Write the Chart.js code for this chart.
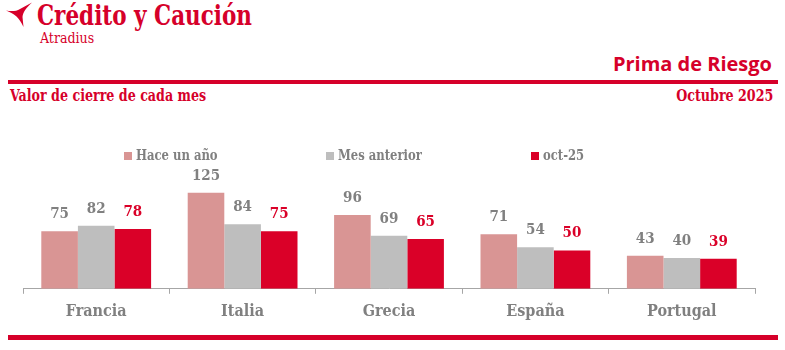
<!DOCTYPE html>
<html>
<head>
<meta charset="utf-8">
<script src="https://cdn.jsdelivr.net/npm/chart.js@4/dist/chart.umd.min.js"></script>
<style>
  html,body{margin:0;padding:0;background:#fff;}
  body{width:785px;height:350px;position:relative;overflow:hidden;}
  .abs{position:absolute;white-space:nowrap;}
  .slab{font-family:"DejaVu Serif Condensed","DejaVu Serif",serif;}
  #wrap{position:absolute;left:0;top:0;width:785px;height:350px;}
  .li{position:absolute;top:146px;display:flex;align-items:center;font-family:"DejaVu Serif Condensed","DejaVu Serif",serif;font-weight:bold;font-size:15px;color:#808080;white-space:nowrap;}
  .sw{width:8px;height:8px;margin-right:4px;margin-top:2px;flex:none;}
  .lt{display:inline-block;transform:scaleX(0.86);transform-origin:0 50%;}
</style>
</head>
<body>
<svg class="abs" style="left:0;top:0" width="36" height="30" viewBox="0 0 36 30">
  <path d="M6 10.5 C11 11.5 16 11.5 20 9 L32 2.5 C26 8 23 12 22.5 17 L23.5 27 C21 22 19 19 16.5 16.5 C13 13.5 10 12 6 10.5 Z" fill="#D6002A"/>
</svg>
<div class="abs slab" id="brand" style="left:37px;top:0px;font-size:27px;font-weight:bold;color:#D6002A;transform:scaleX(0.885);transform-origin:0 0;">Crédito y Caución</div>
<div class="abs slab" id="atr" style="left:40px;top:30px;font-size:14px;color:#D6002A;">Atradius</div>
<div class="abs" id="prima" style="right:13px;top:50px;font-family:'Open Sans',sans-serif;font-size:20px;font-weight:bold;color:#D6002A;">Prima de Riesgo</div>
<div class="abs" style="left:8px;top:80px;width:770px;height:4px;background:#D6002A;"></div>
<div class="abs slab" id="valor" style="left:10px;top:86px;font-size:16px;font-weight:bold;color:#D6002A;transform:scaleX(0.88);transform-origin:0 0;">Valor de cierre de cada mes</div>
<div class="abs slab" id="oct" style="right:12px;top:86px;font-size:16px;font-weight:bold;color:#D6002A;transform:scaleX(0.88);transform-origin:100% 0;">Octubre 2025</div>
<div class="abs" style="left:8px;top:335px;width:770px;height:5px;background:#D6002A;"></div>
<div id="wrap"><canvas id="c" width="785" height="350"></canvas></div>
<div id="legend"></div>
<script>
const categories = ["Francia", "Italia", "Grecia", "España", "Portugal"];
const seriesNames = ["Hace un año", "Mes anterior", "oct-25"];
const haceUnAno = [75, 125, 96, 71, 43];
const mesAnterior = [82, 84, 69, 54, 40];
const oct25 = [78, 75, 65, 50, 39];

const barColors = ["#D99594", "#BEBEBE", "#DA0028"];
const labelColors = ["#808080", "#808080", "#DA0028"];
const seriesValues = [haceUnAno, mesAnterior, oct25];
const canvasFont = '"DejaVu Serif Condensed", "DejaVu Serif", serif';

// HTML legend
const lg = document.getElementById('legend');
const legendX = [124, 326, 531];
seriesNames.forEach((n, i) => {
  const d = document.createElement('div');
  d.className = 'li';
  d.style.left = legendX[i] + 'px';
  d.innerHTML = '<span class="sw" style="background:' + barColors[i] + '"></span><span class="lt">' + n + '</span>';
  lg.appendChild(d);
});

const valueLabels = {
  id: 'valueLabels',
  afterDatasetsDraw(chart) {
    const ctx = chart.ctx;
    ctx.save();
    ctx.font = 'bold 15px ' + canvasFont;
    ctx.textAlign = 'center';
    ctx.textBaseline = 'alphabetic';
    chart.data.datasets.forEach((ds, i) => {
      const meta = chart.getDatasetMeta(i);
      ctx.fillStyle = labelColors[i];
      meta.data.forEach((el, j) => {
        ctx.fillText(String(ds.data[j]), el.x, el.y - 13);
      });
    });
    ctx.restore();
  }
};

new Chart(document.getElementById('c'), {
  type: 'bar',
  data: {
    labels: categories,
    datasets: seriesNames.map((n, i) => ({
      label: n,
      data: seriesValues[i],
      backgroundColor: barColors[i],
      borderWidth: 0,
      categoryPercentage: 0.75,
      barPercentage: 1.0
    }))
  },
  options: {
    responsive: false,
    animation: false,
    layout: { padding: { left: 23, right: 30, top: 166, bottom: 21 } },
    plugins: { legend: { display: false }, tooltip: { enabled: false } },
    scales: {
      x: {
        grid: { display: true, offset: true, drawOnChartArea: false, drawTicks: true, tickLength: 5, color: '#A6A6A6', lineWidth: 1 },
        border: { display: true, color: '#A6A6A6', width: 1 },
        ticks: { color: '#808080', font: { family: canvasFont, size: 16, weight: 'bold' }, padding: 8 }
      },
      y: { display: false, min: 0, max: 160 }
    }
  },
  plugins: [valueLabels]
});
</script>
</body>
</html>
